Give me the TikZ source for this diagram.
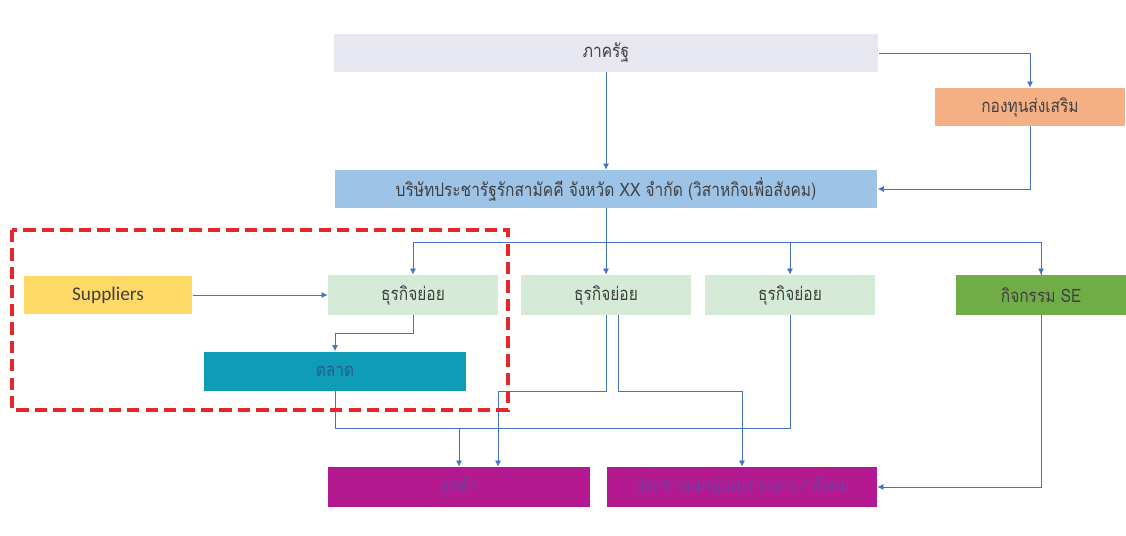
\documentclass[tikz,border=0pt]{standalone}
\usepackage{fontspec}
\setmainfont{Carlito}
\newfontfamily\thaifont[Script=Thai,FakeStretch=0.84]{Loma}
\usetikzlibrary{arrows.meta}

\definecolor{edgeblue}{HTML}{4472C4}
\definecolor{statefill}{HTML}{E6E7F1}
\definecolor{fundfill}{HTML}{F4B084}
\definecolor{companyfill}{HTML}{9DC3E6}
\definecolor{supplierfill}{HTML}{FFD966}
\definecolor{bizfill}{HTML}{D5EBD7}
\definecolor{sefill}{HTML}{70AD47}
\definecolor{marketfill}{HTML}{0E9CB6}
\definecolor{markettext}{HTML}{2A5C88}
\definecolor{custfill}{HTML}{B4198F}
\definecolor{custtext}{HTML}{6E3FA6}
\definecolor{boxtext}{HTML}{404040}
\definecolor{frame}{HTML}{E8262A}

\begin{document}
\begin{tikzpicture}[x=0.02cm,y=-0.02cm,
    box/.style={draw=none,text=boxtext,minimum height=0.76cm,inner sep=0pt,
      font=\thaifont\fontsize{10.5}{12}\selectfont},
    link/.style={draw=edgeblue,line width=0.5pt},
    arr/.style={link,-{Latex[length=3.5pt,width=3.5pt]}}]
      \useasboundingbox (0,0) rectangle (1126,535);

      % Boxes
      \node[box,fill=statefill,minimum width=10.9cm] (state) at (606,53) {ภาครัฐ};
      \node[box,fill=fundfill,minimum width=3.8cm] (fund) at (1030,107) {กองทุนส่งเสริม};
      \node[box,fill=companyfill,minimum width=10.86cm] (company) at (606,189)
        {บริษัทประชารัฐรักสามัคคี จังหวัด XX จำกัด (วิสาหกิจเพื่อสังคม)};
      \node[box,fill=supplierfill,minimum width=3.38cm,font=\fontsize{11}{13}\selectfont] (suppliers) at (108,295) {Suppliers};
      \node[box,fill=bizfill,minimum width=3.4cm,minimum height=0.8cm] (biz1) at (413,295) {ธุรกิจย่อย};
      \node[box,fill=bizfill,minimum width=3.4cm,minimum height=0.8cm] (biz2) at (606,295) {ธุรกิจย่อย};
      \node[box,fill=bizfill,minimum width=3.4cm,minimum height=0.8cm] (biz3) at (790,295) {ธุรกิจย่อย};
      \node[box,fill=sefill,minimum width=3.4cm,minimum height=0.8cm] (se) at (1041,295) {กิจกรรม SE};
      \node[box,fill=marketfill,text=markettext,minimum width=5.24cm,minimum height=0.78cm] (market) at (335,371) {ตลาด};
      \node[box,fill=custfill,text=custtext,minimum width=5.24cm,minimum height=0.8cm] (customer) at (459,487) {ลูกค้า};
      \node[box,fill=custfill,text=custtext,minimum width=5.4cm,minimum height=0.8cm] (people) at (742,487) {ประชาชนกลุ่มเปราะบาง / สังคม};

      % Top links
      \draw[arr] (state) -- (company);
      \draw[arr] (state.east) -| (fund.north);
      \draw[arr] (fund.south) |- (company.east);

      % Bus to the businesses
      \coordinate (split) at (606,242);
      \draw[link] (company.south) -- (split);
      \draw[arr] (split) -| (biz1.north);
      \draw[arr] (split) -- (biz2.north);
      \draw[link] (split) -| (se.north);
      \draw[arr] (biz3.north |- split) -- (biz3.north);
      \draw[arr] (se.north |- split) -- (se.north);

      % Inside the frame
      \draw[arr] (suppliers) -- (biz1);
      \draw[arr] (biz1.south) -- ++(0,18) -| (market.north);

      % Down to the customers
      \coordinate (join) at (459,428);
      \coordinate (turn) at (498,391);
      \draw[arr] (market.south) |- (join) -- (customer.north);
      \draw[link] (biz3.south) |- (join);
      \draw[arr] (biz2.south) |- (turn) -- (turn |- customer.north);
      \draw[arr] ([xshift=0.24cm]biz2.south) -- ++(0,76) -| (people.north);
      \draw[arr] (se.south) |- (people.east);

      % Red frame
      \draw[frame,line width=2pt,dash pattern=on 7pt off 3.5pt] (12,230) rectangle (508,410);
    \end{tikzpicture}
\end{document}
